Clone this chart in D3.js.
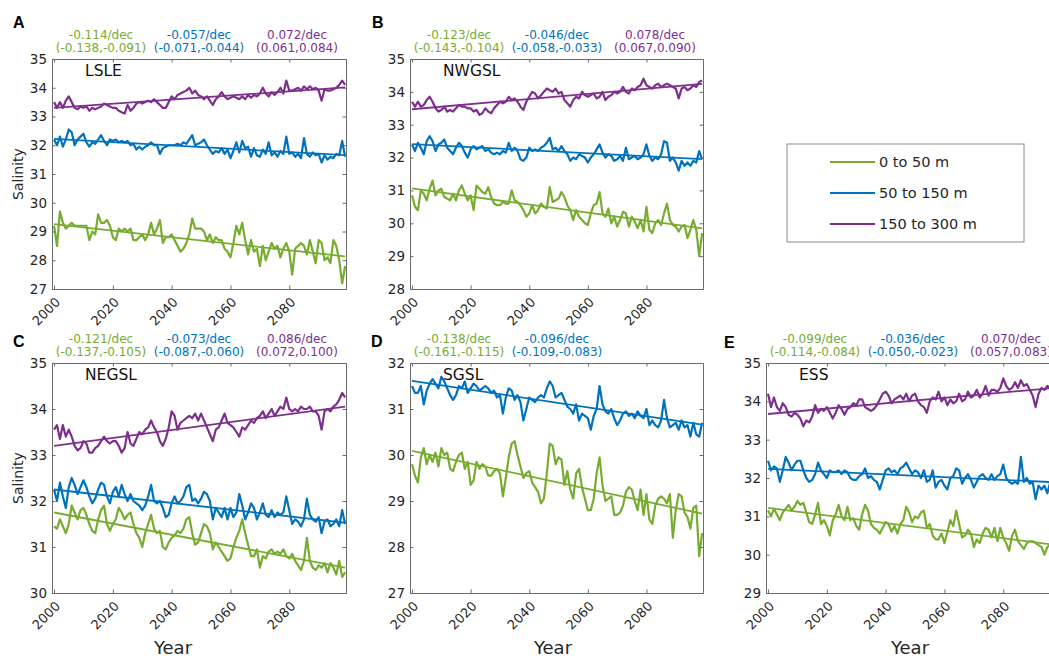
<!DOCTYPE html>
<html>
<head>
<meta charset="utf-8">
<script src="https://cdn.jsdelivr.net/npm/d3@7"></script>
<style>
  html, body { margin: 0; padding: 0; background: #fff; }
  svg { display: block; font-family: "DejaVu Sans", sans-serif; }
</style>
</head>
<body>
<svg id="chart" width="1049" height="658"></svg>
<script>
// Annual mean salinity, 2000-2099, three depth layers per region
const years = d3.range(2000, 2100);
const layers = ["0 to 50 m", "50 to 150 m", "150 to 300 m"];
const layerColors = ["#77AC30", "#0072BD", "#7E2F8E"];
const xTicks = [2000, 2020, 2040, 2060, 2080];

// LSLE
const lsleShallow = [
  29.2, 28.5, 29.7, 29.3, 29.1, 29.2, 29.3, 29.2, 29.2, 29.2,
  29.2, 29.2, 28.7, 29.0, 28.9, 29.6, 29.3, 29.3, 29.4, 29.2,
  28.8, 28.7, 29.1, 29.0, 29.1, 29.0, 29.1, 28.7, 28.7, 28.8,
  28.9, 28.7, 28.9, 29.3, 28.9, 29.1, 29.4, 28.6, 28.8, 28.8,
  28.9, 28.7, 28.5, 28.3, 28.4, 28.6, 28.9, 29.45, 29.1, 29.1,
  29.1, 29.0, 28.7, 28.9, 28.6, 28.8, 28.7, 28.7, 28.4, 28.3,
  28.1, 28.6, 29.2, 28.9, 29.3, 28.7, 28.2, 28.7, 28.3, 28.4,
  27.8, 28.5, 28.0, 28.3, 28.6, 28.4, 28.5, 28.1, 28.4, 28.6,
  28.3, 27.5, 28.4, 28.5, 28.6, 28.5, 28.2, 28.7, 28.3, 27.9,
  28.7, 28.6, 28.0, 28.1, 27.9, 28.7, 28.5, 28.0, 27.2, 27.8
];
const lsleMid = [
  32.2, 32.0, 32.3, 31.95, 32.2, 32.55, 32.45, 32.0, 32.2, 32.3,
  32.4, 32.1, 31.95, 32.1, 32.05, 32.2, 32.35, 32.15, 32.0, 32.2,
  32.15, 32.2, 32.1, 32.15, 32.1, 32.15, 32.0, 32.05, 31.85, 31.95,
  31.85, 31.95, 32.0, 32.1, 32.0, 32.0, 31.7, 31.9, 31.95, 32.0,
  32.0, 32.0, 32.05, 32.0, 32.1, 32.05, 32.2, 32.35, 32.0, 32.05,
  32.1, 32.2, 32.0, 31.85, 31.7, 31.8, 31.75, 31.9, 31.7, 31.85,
  31.55, 31.8, 32.1, 31.75, 32.15, 31.9, 31.95, 31.6, 31.9, 31.65,
  31.6, 31.85, 31.7, 32.1, 31.65, 31.75, 31.6, 31.8, 31.7, 32.3,
  31.7, 31.75, 31.6, 31.7, 31.55, 32.25, 31.7, 31.6, 31.75, 31.65,
  31.7, 31.4, 31.65, 31.5, 31.6, 31.55, 31.7, 31.65, 32.15, 31.6
];
const lsleDeep = [
  33.5, 33.3, 33.5, 33.3, 33.55, 33.7, 33.5, 33.3, 33.25, 33.35,
  33.3, 33.35, 33.2, 33.3, 33.25, 33.3, 33.35, 33.45, 33.4, 33.35,
  33.3, 33.3, 33.2, 33.15, 33.1, 33.4, 33.2, 33.3, 33.45, 33.5,
  33.45, 33.5, 33.55, 33.5, 33.6, 33.5, 33.4, 33.3, 33.3, 33.5,
  33.7, 33.6, 33.75, 33.8, 33.85, 33.9, 34.0, 33.8, 33.9, 33.75,
  33.7, 33.6, 33.7, 33.55, 33.4, 33.6, 33.7, 33.85, 33.7, 33.6,
  33.65, 33.7, 33.65, 33.6, 33.7, 33.6, 33.75, 33.65, 33.75, 33.7,
  33.8, 34.0, 33.8, 33.7, 33.85, 33.75, 33.85, 34.0, 33.8, 34.25,
  33.9, 33.9, 33.95, 34.0, 33.9, 34.05, 33.95, 34.05, 33.95, 34.0,
  33.9, 33.55, 33.95, 33.9, 33.9, 33.95, 34.0, 34.1, 34.25, 34.1
];

// NWGSL
const nwgslShallow = [
  30.85, 30.5, 30.4, 31.0, 30.9, 30.7, 31.05, 31.3, 30.85, 31.0,
  31.05, 30.8, 30.75, 30.7, 30.9, 30.7, 31.0, 31.15, 30.9, 30.7,
  30.85, 30.4, 31.15, 31.05, 30.95, 30.9, 31.1, 30.8, 30.6, 30.55,
  30.55, 30.65, 30.6, 30.6, 31.0, 30.7, 30.65, 30.55, 30.4, 30.2,
  30.3, 30.55, 30.3, 30.4, 30.6, 30.5, 30.45, 31.1, 30.65, 30.7,
  30.75, 30.95, 30.8, 30.55, 30.4, 30.1, 30.4, 30.2, 30.1, 30.0,
  29.95, 30.3, 30.55, 30.6, 30.95, 30.3, 30.2, 30.45, 30.0, 30.2,
  29.9, 30.1, 30.35, 30.3, 29.9, 30.2, 30.05, 29.85, 30.1, 29.75,
  30.5, 29.8, 29.7, 30.0, 30.1, 29.95, 30.3, 30.6, 30.1, 29.95,
  29.9, 29.75, 29.9, 29.95, 29.55, 29.8, 30.1, 29.8, 29.0, 29.7
];
const nwgslMid = [
  32.4, 32.2, 32.45, 32.3, 32.1, 32.5, 32.65, 32.5, 32.2, 32.4,
  32.45, 32.55, 32.3, 32.2, 32.1, 32.3, 32.45, 32.35, 32.15, 32.0,
  32.25, 32.35, 32.25, 32.3, 32.35, 32.2, 32.25, 32.15, 32.1, 32.15,
  32.1, 32.2, 32.15, 32.45, 32.2, 32.3, 32.2, 31.95, 31.9, 32.0,
  32.3, 32.2, 32.25, 32.2, 32.3, 32.35, 32.45, 32.6, 32.25, 32.3,
  32.2, 32.35, 32.2, 32.1, 31.9, 32.0, 31.95, 32.1, 32.05, 32.0,
  31.85, 32.0, 32.1, 32.25, 32.4, 32.15, 32.0, 32.1, 32.05, 31.9,
  31.95, 32.05, 31.9, 32.3, 31.95, 32.0, 32.05, 31.95, 32.0, 32.1,
  32.4, 32.05, 31.9, 32.0, 31.95, 32.1, 32.5, 32.45, 31.9, 32.0,
  31.85, 31.6, 31.9, 31.75, 31.85, 31.75, 31.9, 31.85, 32.2, 31.95
];
const nwgslDeep = [
  33.7, 33.55, 33.7, 33.55, 33.6, 33.75, 33.85, 33.7, 33.5, 33.4,
  33.45, 33.55, 33.4, 33.45, 33.4, 33.5, 33.6, 33.55, 33.55, 33.5,
  33.5, 33.4, 33.45, 33.3, 33.35, 33.5, 33.4, 33.35, 33.5, 33.6,
  33.7, 33.65, 33.7, 33.85, 33.75, 33.8, 33.7, 33.55, 33.45, 33.7,
  33.85, 34.0, 33.95, 33.8, 33.9, 34.0, 34.1, 34.05, 34.0, 34.1,
  33.95, 34.0, 33.75, 33.65, 33.55, 33.75, 33.85, 33.8, 34.0, 33.9,
  33.85, 33.9, 33.95, 33.8, 33.85, 34.0, 33.75, 33.85, 33.9, 34.0,
  33.95, 34.0, 34.15, 34.0, 33.95, 34.1, 34.05, 34.15, 34.2, 34.4,
  34.2, 34.15, 34.1, 34.2, 34.25, 34.15, 34.2, 34.25, 34.2, 34.15,
  34.1, 33.8, 34.1, 34.15, 34.05, 34.1, 34.2, 34.15, 34.3, 34.35
];

// NEGSL
const negslShallow = [
  31.45, 31.4, 31.6, 31.45, 31.3, 31.5, 31.9, 31.75, 31.6, 31.8,
  31.85, 31.7, 31.5, 31.35, 31.3, 31.6, 31.8, 31.9, 31.5, 31.35,
  31.5, 31.6, 31.85, 31.75, 31.6, 31.7, 31.75, 31.5, 31.3, 31.2,
  31.0, 31.3, 31.5, 31.7, 31.4, 31.3, 31.35, 31.0, 30.95, 31.1,
  31.2, 31.25, 31.35, 31.3, 31.4, 31.6, 31.65, 31.3, 31.05, 31.1,
  31.3, 31.5, 31.45, 31.3, 30.95, 31.1, 31.0, 30.9, 30.8, 30.7,
  30.75, 31.0, 31.2, 31.35, 31.6, 31.3, 31.05, 30.8, 30.8, 30.95,
  30.55, 30.8, 30.75, 30.9, 30.95, 30.85, 30.9, 30.85, 30.95, 30.8,
  30.75, 30.85, 30.7, 30.6, 30.5, 30.7, 31.2, 30.7, 30.55, 30.5,
  30.6, 30.55, 30.65, 30.45, 30.65, 30.55, 30.4, 30.7, 30.35, 30.45
];
const negslMid = [
  32.25, 32.0, 32.4, 32.1, 31.85, 32.3, 32.5, 32.35, 32.15, 32.3,
  32.45, 32.3, 32.1, 31.95, 32.05, 32.25, 32.4, 32.35, 32.1, 31.95,
  32.2, 32.3, 32.1, 32.35, 32.15, 32.0, 32.15, 32.0, 31.95, 31.9,
  31.8, 31.9, 32.1, 32.35, 32.0, 31.95, 32.0, 31.85, 31.65, 31.7,
  31.95, 32.1, 31.95, 32.0, 32.1, 32.3, 32.35, 32.0, 32.05, 31.95,
  32.05, 32.2, 32.15, 32.0, 31.6, 31.85, 31.75, 31.65, 31.85, 31.6,
  31.85, 31.65, 31.75, 32.15, 31.9, 31.6, 31.75, 31.95, 31.85, 31.6,
  31.75, 31.95, 31.7, 31.65, 31.8, 31.65, 31.75, 31.7, 31.75, 32.1,
  31.8, 31.5, 31.6, 31.55, 31.45, 31.6, 32.05, 31.7, 31.6, 31.55,
  31.65, 31.3, 31.55, 31.6, 31.45, 31.5, 31.6, 31.45, 31.8, 31.5
];
const negslDeep = [
  33.55, 33.65, 33.35, 33.65, 33.4, 33.55, 33.4, 33.2, 33.1, 33.15,
  33.3, 33.25, 33.05, 33.05, 33.15, 33.2, 33.3, 33.4, 33.3, 33.25,
  33.3, 33.3, 33.2, 33.05, 33.15, 33.5, 33.25, 33.2, 33.35, 33.5,
  33.45, 33.55, 33.6, 33.75, 33.6, 33.5, 33.3, 33.2, 33.35, 33.6,
  33.95, 33.85, 33.55, 33.7, 33.75, 33.8, 33.85, 33.8, 33.9, 33.75,
  33.9, 33.75, 33.6, 33.45, 33.3, 33.55, 33.6, 33.75, 33.9, 33.7,
  33.65, 33.6, 33.5, 33.4, 33.6, 33.55, 33.65, 33.75, 33.7, 33.8,
  33.85, 33.95, 33.8, 33.9, 34.0, 33.85, 33.95, 34.05, 34.0, 34.25,
  34.0, 33.95, 34.0, 33.95, 34.05, 34.0, 34.0, 34.05, 33.95, 33.95,
  33.85, 33.55, 33.95, 34.0, 33.95, 34.05, 34.1, 34.2, 34.35, 34.25
];

// SGSL (no 150-300 m layer)
const sgslShallow = [
  29.8, 29.55, 29.4, 29.95, 30.15, 29.8, 30.0, 29.85, 30.05, 29.75,
  30.15, 30.0, 30.05, 29.7, 29.65, 29.85, 30.0, 30.05, 29.7, 29.85,
  29.35, 29.45, 29.85, 29.7, 29.8, 29.75, 29.55, 29.55, 29.65, 29.7,
  29.6, 29.1, 29.5, 29.95, 30.25, 30.3, 30.0, 29.75, 29.5, 29.6,
  29.65, 29.4, 29.3, 29.2, 28.95, 29.05, 29.6, 30.25, 30.2, 29.8,
  29.95, 29.9, 29.35, 29.65, 29.25, 29.05, 29.6, 29.7, 29.3, 29.05,
  28.8, 28.8, 29.05, 29.6, 29.95, 29.35, 29.0, 29.05, 29.1, 28.7,
  28.7, 28.75, 28.9, 29.2, 29.3, 29.25, 29.0, 28.8, 29.25, 28.7,
  29.15, 28.6, 28.5, 28.9, 29.05, 29.1, 29.05, 28.95, 29.15, 28.2,
  28.8, 29.15, 29.1, 28.75, 28.65, 28.4, 28.85, 28.9, 27.8, 28.3
];
const sgslMid = [
  31.5, 31.35, 31.35, 31.5, 31.1, 31.4, 31.55, 31.65, 31.55, 31.45,
  31.7, 31.6, 31.45, 31.3, 31.2, 31.3, 31.5, 31.45, 31.6, 31.35,
  31.45, 31.55, 31.5, 31.4, 31.45, 31.5, 31.45, 31.35, 31.4, 31.25,
  31.3, 30.9, 31.25, 31.45, 31.4, 31.2, 31.3, 31.15, 30.75, 31.0,
  31.25, 31.2, 31.15, 31.25, 31.3, 31.25, 31.45, 31.6, 31.5, 31.25,
  31.3, 31.35, 31.2, 31.05, 31.0, 30.9, 31.1, 30.75, 30.9, 30.85,
  30.8, 30.55, 30.85, 31.0, 31.5, 31.1, 30.95, 30.9, 31.0, 30.8,
  30.65, 30.75, 30.9, 30.95, 30.85, 30.9, 30.8, 30.95, 30.85, 30.8,
  31.0, 30.65, 30.75, 30.65, 30.6, 30.75, 31.2, 30.8, 30.6, 30.65,
  30.7, 30.55, 30.75, 30.6, 30.65, 30.4, 30.7, 30.45, 30.4, 30.7
];

// ESS
const essShallow = [
  31.15, 31.0, 31.2, 31.05, 30.9, 31.1, 31.2, 31.3, 31.15, 31.25,
  31.4, 31.3, 31.35, 31.1, 30.85, 30.8, 31.05, 31.35, 30.8, 30.9,
  30.75, 30.5, 30.9, 31.05, 31.3, 31.0, 30.9, 31.25, 30.9, 30.95,
  30.75, 30.65, 31.05, 31.3, 31.15, 30.8, 30.7, 30.65, 30.55, 30.7,
  30.85, 30.8, 30.6, 30.75, 30.55, 30.8, 30.9, 31.25, 31.1, 30.85,
  31.0, 30.95, 31.1, 31.15, 30.7, 30.8, 30.5, 30.4, 30.4, 30.55,
  30.3, 30.6, 30.9, 30.75, 31.15, 30.8, 30.45, 30.5, 30.65, 30.55,
  30.2, 30.4, 30.3, 30.55, 30.7, 30.65, 30.45, 30.7, 30.35, 30.7,
  30.45, 30.3, 30.1, 30.5, 30.65, 30.35, 30.25, 30.15, 30.3, 30.35,
  30.35, 30.3, 30.25, 30.2, 30.0, 30.2, 30.25, 30.3, 30.2, 30.3
];
const essMid = [
  32.45, 32.2, 32.3, 32.25, 31.9, 32.2, 32.55, 32.4, 32.2, 32.35,
  32.45, 32.45, 32.2, 32.0, 31.9, 31.95, 32.1, 32.4, 32.2, 32.1,
  32.0, 32.2, 32.15, 32.15, 32.2, 32.1, 32.2, 32.15, 32.0, 31.95,
  31.95, 32.05, 32.1, 32.25, 32.0, 32.05, 31.95, 31.9, 31.7, 31.95,
  32.2, 32.25, 32.15, 32.2, 32.1, 32.25, 32.3, 32.4, 32.25, 32.1,
  32.2, 32.15, 32.0, 32.2, 31.9, 31.95, 32.2, 31.75, 31.9, 31.95,
  31.8, 31.7, 32.0, 32.05, 32.25, 32.2, 31.85, 32.0, 32.1, 31.95,
  31.75, 31.9, 32.05, 32.1, 32.0, 31.95, 32.1, 31.95, 32.05, 32.1,
  32.35, 32.0, 31.9, 31.85, 31.9, 31.85, 32.55, 31.9, 32.0, 31.85,
  31.9, 31.45, 31.8, 31.7, 31.8, 31.6, 31.9, 31.85, 31.9, 31.85
];
const essDeep = [
  34.2, 33.85, 34.1, 33.85, 33.75, 33.95, 33.85, 33.65, 33.6, 33.7,
  33.65, 33.55, 33.35, 33.5, 33.45, 33.6, 33.9, 33.7, 33.8, 33.75,
  33.85, 33.7, 33.55, 33.7, 33.9, 33.8, 33.65, 33.8, 33.85, 33.95,
  33.9, 34.05, 34.05, 33.85, 33.8, 33.75, 33.8, 33.9, 34.05, 34.2,
  34.25, 34.15, 33.95, 34.05, 34.1, 34.15, 34.05, 34.2, 34.0, 34.15,
  34.2, 34.0, 33.9, 33.85, 33.7, 34.0, 34.1, 34.05, 34.25, 34.0,
  34.1, 33.9, 34.05, 33.95, 34.0, 34.2, 34.0, 34.05, 34.25, 34.1,
  34.15, 34.3, 34.1, 34.2, 34.4, 34.15, 34.3, 34.3, 34.25, 34.35,
  34.6, 34.4, 34.3, 34.35, 34.5, 34.35, 34.55, 34.4, 34.45, 34.3,
  34.15, 33.85, 34.2, 34.35, 34.3, 34.4, 34.35, 34.4, 34.45, 34.4
];

// Linear trends: slope (per decade), 95% interval, and fitted value in 2000
const slopeLSLE = [-0.114, -0.057, 0.072];
const ciLSLE = [[-0.138, -0.091], [-0.071, -0.044], [0.061, 0.084]];
const fit2000LSLE = [29.26, 32.22, 33.30];

const slopeNWGSL = [-0.123, -0.046, 0.078];
const ciNWGSL = [[-0.143, -0.104], [-0.058, -0.033], [0.067, 0.090]];
const fit2000NWGSL = [31.06, 32.41, 33.47];

const slopeNEGSL = [-0.121, -0.073, 0.086];
const ciNEGSL = [[-0.137, -0.105], [-0.087, -0.060], [0.072, 0.100]];
const fit2000NEGSL = [31.75, 32.25, 33.20];

const slopeSGSL = [-0.138, -0.096];
const ciSGSL = [[-0.161, -0.115], [-0.109, -0.083]];
const fit2000SGSL = [30.09, 31.61];

const slopeESS = [-0.099, -0.036, 0.070];
const ciESS = [[-0.114, -0.084], [-0.050, -0.023], [0.057, 0.083]];
const fit2000ESS = [31.22, 32.24, 33.67];

// Y axis ticks per region
const yTicksLSLE = [27, 28, 29, 30, 31, 32, 33, 34, 35];
const yTicksNWGSL = [28, 29, 30, 31, 32, 33, 34, 35];
const yTicksNEGSL = [30, 31, 32, 33, 34, 35];
const yTicksSGSL = [27, 28, 29, 30, 31, 32];
const yTicksESS = [29, 30, 31, 32, 33, 34, 35];

// Region table assembled from the arrays above
const regions = [
  { letter: "A", name: "LSLE", series: [lsleShallow, lsleMid, lsleDeep], slope: slopeLSLE, ci: ciLSLE, fit: fit2000LSLE, yTicks: yTicksLSLE },
  { letter: "B", name: "NWGSL", series: [nwgslShallow, nwgslMid, nwgslDeep], slope: slopeNWGSL, ci: ciNWGSL, fit: fit2000NWGSL, yTicks: yTicksNWGSL },
  { letter: "C", name: "NEGSL", series: [negslShallow, negslMid, negslDeep], slope: slopeNEGSL, ci: ciNEGSL, fit: fit2000NEGSL, yTicks: yTicksNEGSL },
  { letter: "D", name: "SGSL", series: [sgslShallow, sgslMid], slope: slopeSGSL, ci: ciSGSL, fit: fit2000SGSL, yTicks: yTicksSGSL },
  { letter: "E", name: "ESS", series: [essShallow, essMid, essDeep], slope: slopeESS, ci: ciESS, fit: fit2000ESS, yTicks: yTicksESS }
];

// Panel placement
const layout = [
  { left: 52, top: 59, w: 294, h: 230, letterX: 13, letterY: 28, yLabel: true, xLabel: false },
  { left: 410, top: 59, w: 293, h: 230, letterX: 372, letterY: 28, yLabel: false, xLabel: false },
  { left: 52, top: 363, w: 294, h: 230, letterX: 13, letterY: 347, yLabel: true, xLabel: true, xLabelX: 173 },
  { left: 410, top: 363, w: 293, h: 230, letterX: 371, letterY: 347, yLabel: false, xLabel: true, xLabelX: 553 },
  { left: 766, top: 363, w: 294, h: 230, letterX: 724, letterY: 348, yLabel: false, xLabel: true, xLabelX: 910 }
];

const svg = d3.select("#chart");
const axisColor = "#6b6b6b";
const textColor = "#262626";
const tickLen = 3.5;

regions.forEach((r, i) => {
  const L = layout[i];
  const x = d3.scaleLinear().domain([1999.3, 2099.3]).range([L.left, L.left + L.w]);
  const y = d3.scaleLinear().domain([r.yTicks[0], r.yTicks[r.yTicks.length - 1]]).range([L.top + L.h, L.top]);

  const g = svg.append("g");
  const clipId = "clip" + i;
  svg.append("clipPath").attr("id", clipId)
    .append("rect").attr("x", L.left).attr("y", L.top).attr("width", L.w).attr("height", L.h);

  // Data lines and trend lines
  const plot = g.append("g").attr("clip-path", `url(#${clipId})`);
  const line = d3.line().x((d, k) => x(years[k])).y(d => y(d));
  r.series.forEach((s, k) => {
    plot.append("path").datum(s)
      .attr("d", line)
      .attr("fill", "none")
      .attr("stroke", layerColors[k])
      .attr("stroke-width", 2.2)
      .attr("stroke-linejoin", "round");
    const trend = [years[0], years[years.length - 1]].map(t => [t, r.fit[k] + r.slope[k] * (t - 2000) / 10]);
    plot.append("path").datum(trend)
      .attr("d", d3.line().x(d => x(d[0])).y(d => y(d[1])))
      .attr("fill", "none")
      .attr("stroke", layerColors[k])
      .attr("stroke-width", 1.8);
  });

  // Axes: bottom/left with labels, top/right as plain inward ticks
  const bottom = g.append("g").attr("transform", `translate(0,${L.top + L.h})`)
    .call(d3.axisBottom(x).tickValues(xTicks).tickSizeInner(-tickLen).tickSizeOuter(0).tickFormat(""));
  const top = g.append("g").attr("transform", `translate(0,${L.top})`)
    .call(d3.axisTop(x).tickValues(xTicks).tickSizeInner(-tickLen).tickSizeOuter(0).tickFormat(""));
  const left = g.append("g").attr("transform", `translate(${L.left},0)`)
    .call(d3.axisLeft(y).tickValues(r.yTicks).tickSizeInner(-tickLen).tickSizeOuter(0).tickFormat(""));
  const right = g.append("g").attr("transform", `translate(${L.left + L.w},0)`)
    .call(d3.axisRight(y).tickValues(r.yTicks).tickSizeInner(-tickLen).tickSizeOuter(0).tickFormat(""));
  [bottom, top, left, right].forEach(a => {
    a.selectAll("path").attr("stroke", axisColor).attr("stroke-width", 1);
    a.selectAll("line").attr("stroke", axisColor).attr("stroke-width", 1);
  });

  // Y tick labels
  g.append("g").selectAll("text").data(r.yTicks).join("text")
    .attr("x", L.left - 5)
    .attr("y", d => y(d))
    .attr("dy", "0.36em")
    .attr("text-anchor", "end")
    .attr("font-size", 13.5)
    .attr("fill", textColor)
    .text(d => d);

  // X tick labels, rotated
  g.append("g").selectAll("text").data(xTicks).join("text")
    .attr("transform", d => `translate(${x(d) + 7},${L.top + L.h + 14}) rotate(-45)`)
    .attr("text-anchor", "end")
    .attr("font-size", 13)
    .attr("fill", textColor)
    .text(d => d);

  // Region name inside the plot
  g.append("text")
    .attr("x", L.left + 33)
    .attr("y", L.top + 17)
    .attr("font-size", 15.5)
    .attr("fill", "#111")
    .text(r.name);

  // Panel letter
  g.append("text")
    .attr("x", L.letterX)
    .attr("y", L.letterY)
    .attr("font-family", "'Liberation Sans', Arial, sans-serif")
    .attr("font-weight", "bold")
    .attr("font-size", 16)
    .attr("fill", "#000")
    .text(r.letter);

  // Trend annotations above the plot
  r.slope.forEach((s, k) => {
    const cx = L.left + 49 + 98 * k;
    g.append("text")
      .attr("x", cx).attr("y", L.top - 20)
      .attr("text-anchor", "middle")
      .attr("font-size", 12)
      .attr("fill", layerColors[k])
      .text(`${s.toFixed(3)}/dec`);
    g.append("text")
      .attr("x", cx).attr("y", L.top - 7)
      .attr("text-anchor", "middle")
      .attr("font-size", 12)
      .attr("fill", layerColors[k])
      .text(`(${r.ci[k][0].toFixed(3)},${r.ci[k][1].toFixed(3)})`);
  });

  if (L.yLabel) {
    g.append("text")
      .attr("transform", `translate(23,${L.top + L.h / 2}) rotate(-90)`)
      .attr("text-anchor", "middle")
      .attr("font-size", 14)
      .attr("fill", textColor)
      .text("Salinity");
  }
  if (L.xLabel) {
    g.append("text")
      .attr("x", L.xLabelX)
      .attr("y", 654)
      .attr("text-anchor", "middle")
      .attr("font-size", 18)
      .attr("fill", textColor)
      .text("Year");
  }
});

// Legend
const legend = svg.append("g");
legend.append("rect")
  .attr("x", 787).attr("y", 144).attr("width", 237).attr("height", 98)
  .attr("fill", "#fff").attr("stroke", "#8a8a8a").attr("stroke-width", 1);
const legendRows = [162, 193, 224];
layers.forEach((name, k) => {
  legend.append("line")
    .attr("x1", 830).attr("x2", 875)
    .attr("y1", legendRows[k]).attr("y2", legendRows[k])
    .attr("stroke", layerColors[k]).attr("stroke-width", 2);
  legend.append("text")
    .attr("x", 879).attr("y", legendRows[k])
    .attr("dy", "0.36em")
    .attr("font-size", 14.5)
    .attr("fill", textColor)
    .text(name);
});
</script>
</body>
</html>
